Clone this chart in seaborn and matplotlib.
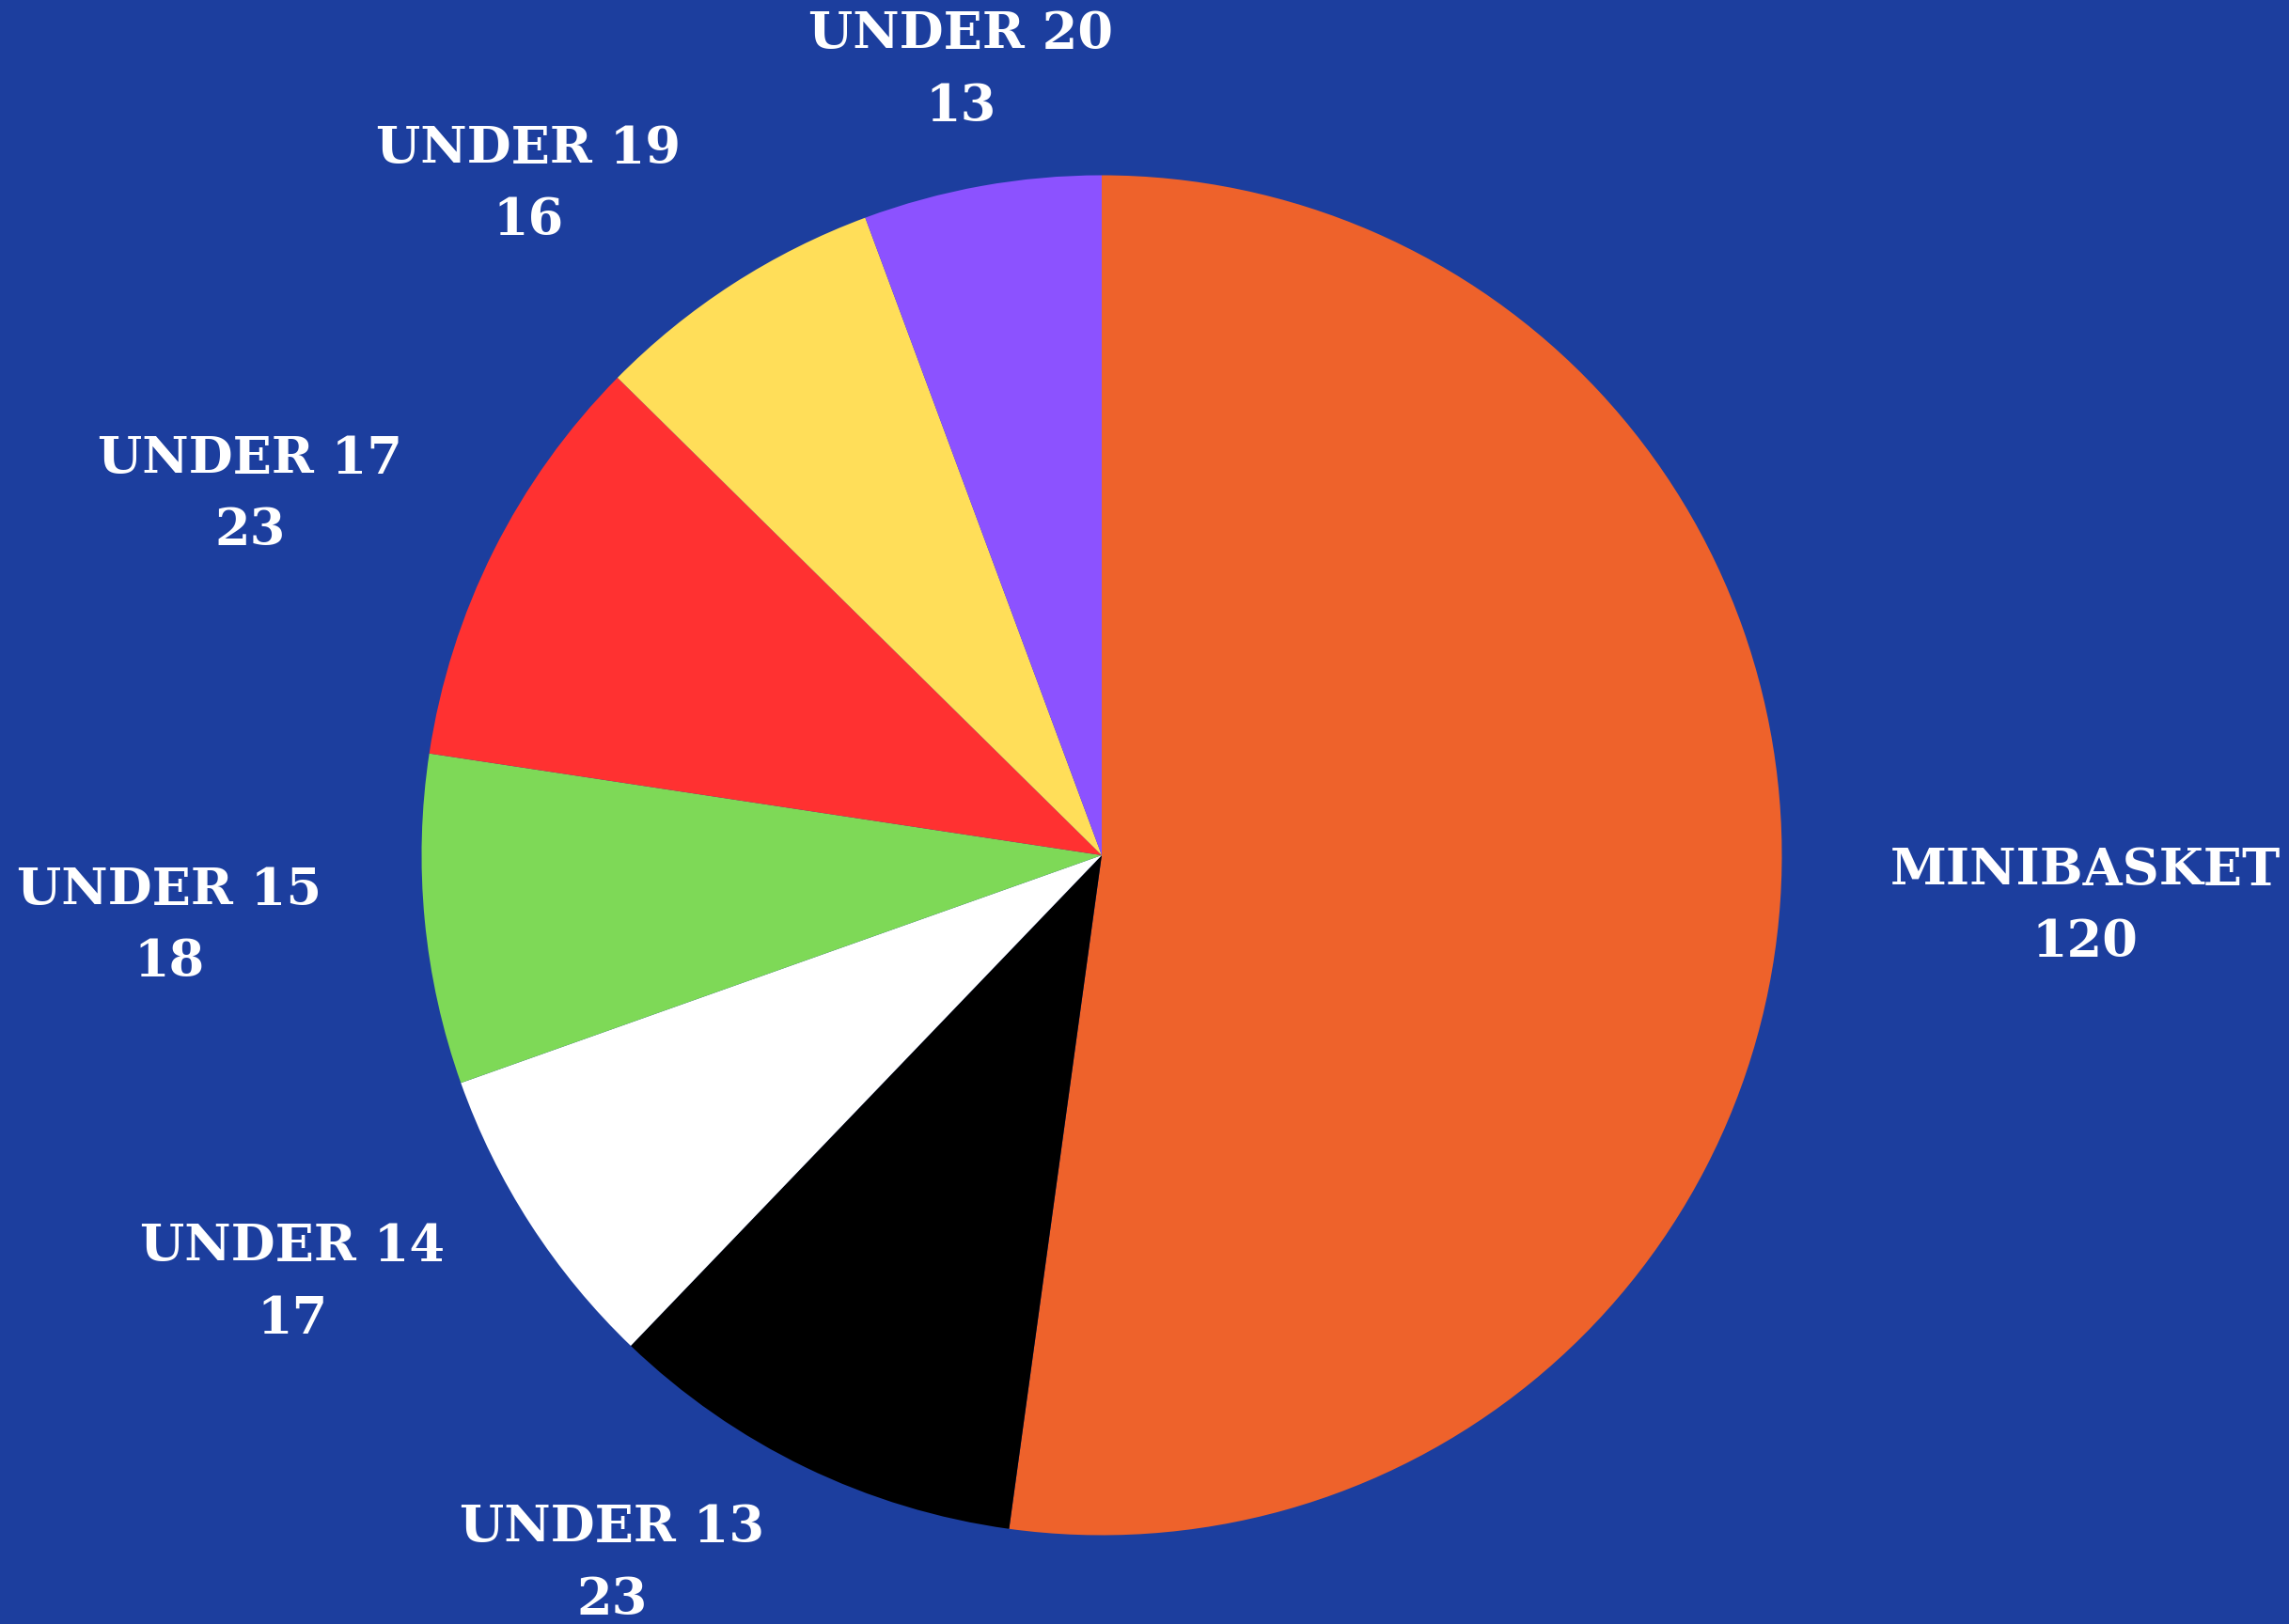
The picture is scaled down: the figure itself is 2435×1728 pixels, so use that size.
import numpy as np
import seaborn as sns
import matplotlib.pyplot as plt

categories = ["MINIBASKET", "UNDER 13", "UNDER 14", "UNDER 15", "UNDER 17", "UNDER 19", "UNDER 20"]
counts = [120, 23, 17, 18, 23, 16, 13]
slice_colors = ["#EE622B", "#000000", "#FFFFFF", "#7ED957", "#FF3131", "#FFDE59", "#8C52FF"]

# label placement tweaks (radius in pie units, angle nudge in degrees)
label_radius = [1.448, 1.267, 1.346, 1.375, 1.36, 1.297, 1.172]
label_nudge = [0.9, -8.8, -5.0, -1.1, 3.7, 7.7, 0.0]

bg = "#1C3E9E"
sns.set_theme(style="white", rc={"figure.facecolor": bg, "axes.facecolor": bg})
plt.rcParams['font.family'] = ['DejaVu Serif']

fig = plt.figure(figsize=(24.35, 17.28), dpi=100)
ax = fig.add_axes([0, 0, 1, 1])
ax.set_facecolor(bg)

wedges, _ = ax.pie(counts, colors=slice_colors, startangle=90, counterclock=False,
                   wedgeprops=dict(linewidth=0))

for w, name, n, rad, nudge in zip(wedges, categories, counts, label_radius, label_nudge):
    theta = np.deg2rad((w.theta1 + w.theta2) / 2 + nudge)
    ax.text(rad * np.cos(theta), rad * np.sin(theta), f"{name}\n{n}",
            ha="center", va="center", color="white", fontsize=39,
            fontweight="bold", linespacing=1.6)

cx, cy, r = 1172, 910, 723.5
ax.set_xlim(-cx / r, (2435 - cx) / r)
ax.set_ylim(-(1728 - cy) / r, cy / r)
ax.set_aspect("auto")
ax.axis("off")

fig.savefig("out.png", dpi=100, facecolor=bg)
